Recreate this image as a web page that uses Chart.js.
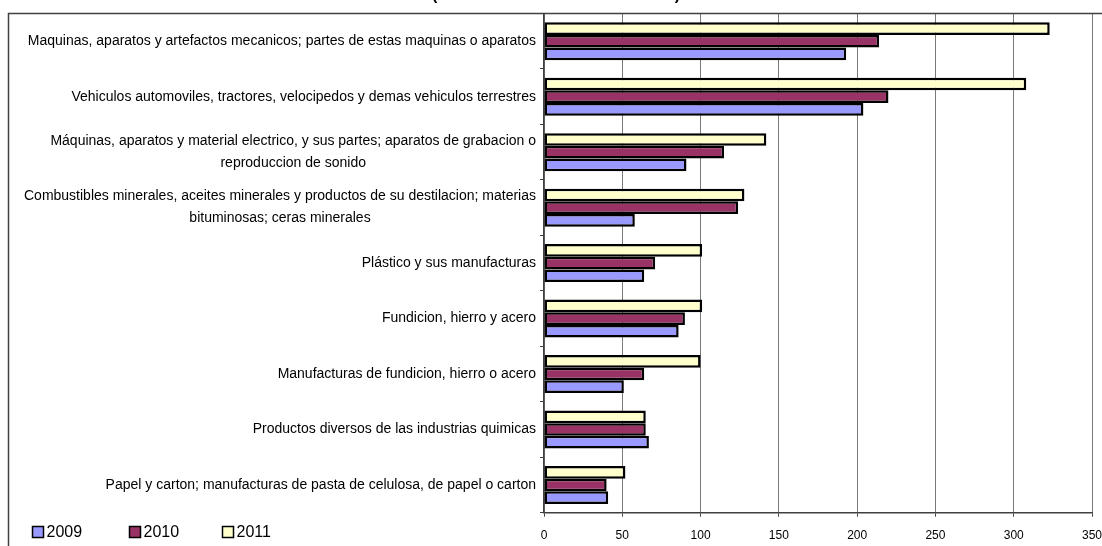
<!DOCTYPE html>
<html>
<head>
<meta charset="utf-8">
<script src="https://cdn.jsdelivr.net/npm/chart.js@4"></script>
<style>
  html, body { margin: 0; padding: 0; background: #fff; }
  #wrap { position: relative; width: 1102px; height: 546px; overflow: hidden; }
</style>
</head>
<body>
<div id="wrap"><canvas id="importChart" width="1102" height="546"></canvas></div>
<script>
// categorias (de arriba hacia abajo), cada una en lineas
const categories = [
  ['Maquinas, aparatos y artefactos mecanicos; partes de estas maquinas o aparatos'],
  ['Vehiculos automoviles, tractores, velocipedos y demas vehiculos terrestres'],
  ['Máquinas, aparatos y material electrico, y sus partes; aparatos de grabacion o', 'reproduccion de sonido'],
  ['Combustibles minerales, aceites minerales y productos de su destilacion; materias', 'bituminosas; ceras minerales'],
  ['Plástico y sus manufacturas'],
  ['Fundicion, hierro y acero'],
  ['Manufacturas de fundicion, hierro o acero'],
  ['Productos diversos de las industrias quimicas'],
  ['Papel y carton; manufacturas de pasta de celulosa, de papel o carton']
];

const years = ['2009', '2010', '2011'];
const values2009 = [193, 204, 91, 58, 64, 86, 51, 67, 41];
const values2010 = [214, 220, 115, 124, 71, 90, 64, 65, 40];
const values2011 = [323, 308, 142, 128, 101, 101, 100, 65, 52];
const xTicks = [0, 50, 100, 150, 200, 250, 300, 350];

const chartTitle = '(Millones de dólares 2009 - 2011)';

Chart.defaults.font.family = '"Liberation Sans", Arial, sans-serif';
Chart.defaults.color = '#000';

// marco, titulo (cortado arriba), etiquetas centradas y leyenda
const framePlugin = {
  id: 'frame',
  beforeDraw(chart) {
    const c = chart.ctx;
    c.save();
    c.fillStyle = '#fff';
    c.fillRect(0, 0, chart.width, chart.height);
    c.restore();
  },
  afterDraw(chart) {
    const c = chart.ctx;
    const yScale = chart.scales.y;
    c.save();

    // marco del grafico
    c.strokeStyle = '#404040';
    c.lineWidth = 1.5;
    c.beginPath();
    c.moveTo(8.5, chart.height + 2);
    c.lineTo(8.5, 13.5);
    c.lineTo(chart.width + 2, 13.5);
    c.stroke();

    // titulo, casi todo fuera del lienzo
    c.font = 'bold 16px "Liberation Sans", Arial, sans-serif';
    c.textAlign = 'center';
    c.textBaseline = 'alphabetic';
    c.fillStyle = '#000';
    c.fillText(chartTitle, 556, 0);

    // etiquetas de categorias
    c.font = '14px "Liberation Sans", Arial, sans-serif';
    c.textBaseline = 'middle';
    const rightEdge = 536;
    categories.forEach((lines, i) => {
      const yc = yScale.getPixelForValue(i);
      const lh = 22;
      const w = Math.max(...lines.map(l => c.measureText(l).width));
      const cx = rightEdge - w / 2;
      const y0 = yc - (lines.length - 1) * lh / 2;
      c.textAlign = 'center';
      lines.forEach((l, k) => c.fillText(l, cx, y0 + k * lh));
    });

    // leyenda
    const legendX = [32.5, 129.5, 222.5];
    c.font = '16px "Liberation Sans", Arial, sans-serif';
    c.textAlign = 'left';
    years.forEach((yr, k) => {
      const ds = chart.data.datasets.find(d => d.label === yr);
      const x = legendX[k];
      c.fillStyle = ds.backgroundColor;
      c.fillRect(x, 526.5, 11, 11);
      c.strokeStyle = '#000';
      c.lineWidth = 1.5;
      c.strokeRect(x, 526.5, 11, 11);
      c.fillStyle = '#000';
      c.fillText(yr, x + 14, 532.5);
    });
    c.restore();
  }
};

const ctx = document.getElementById('importChart');

new Chart(ctx, {
  type: 'bar',
  data: {
    labels: categories.map(l => l.join(' ')),
    datasets: [
      { label: '2011', data: values2011, backgroundColor: '#FFFFCC' },
      { label: '2010', data: values2010, backgroundColor: '#993366' },
      { label: '2009', data: values2009, backgroundColor: '#9999FF' }
    ].map(d => Object.assign(d, {
      borderColor: '#000',
      borderWidth: 2.5,
      borderSkipped: false,
      barPercentage: 1,
      categoryPercentage: 0.685
    }))
  },
  options: {
    indexAxis: 'y',
    responsive: false,
    animation: false,
    layout: { padding: { top: 13.5, left: 0, right: 10, bottom: 0 } },
    plugins: {
      legend: { display: false },
      title: { display: false },
      tooltip: { enabled: false }
    },
    scales: {
      x: {
        min: 0,
        max: 350,
        afterBuildTicks(s) { s.ticks = xTicks.map(v => ({ value: v })); },
        afterFit(s) { s.height = 33.3; s.paddingRight = 0; s.paddingLeft = 0; },
        ticks: { font: { size: 12 }, padding: 12, maxRotation: 0 },
        grid: { color: '#7a7a7a', lineWidth: 1, tickLength: 4, tickColor: '#404040' },
        border: { color: '#404040', width: 1.5 }
      },
      y: {
        afterFit(s) { s.width = 544; },
        ticks: { display: false },
        grid: { drawOnChartArea: false, tickLength: 4, color: '#404040', offset: true },
        border: { color: '#404040', width: 1.5 }
      }
    }
  },
  plugins: [framePlugin]
});
</script>
</body>
</html>
